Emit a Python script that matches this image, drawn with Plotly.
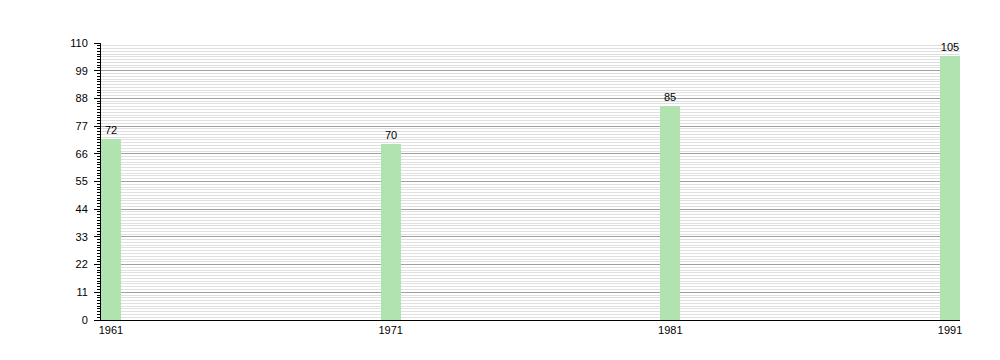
import plotly.graph_objects as go

years = [1961, 1971, 1981, 1991]
values = [72, 70, 85, 105]
labels = ["1961", "1971", "1981", "1991"]

fig = go.Figure()
fig.add_trace(go.Bar(
    x=years, y=values, width=0.715,
    marker=dict(color="#b0e3b0", line=dict(width=0)),
    text=[str(v) for v in values], textposition="outside",
    textfont=dict(family="Liberation Sans, Arial", size=11, color="#000000"),
    cliponaxis=False,
))
fig.update_layout(
    width=1000, height=360,
    margin=dict(l=101, r=40, t=43, b=40),
    paper_bgcolor="white", plot_bgcolor="white",
    showlegend=False,
    bargap=0,
    font=dict(family="Liberation Sans, Arial", size=11, color="#000"),
)
fig.update_xaxes(
    range=[1960.643, 1991.357],
    tickvals=years, ticktext=labels,
    showgrid=False, zeroline=False,
    showline=True, linecolor="#000", linewidth=1,
    ticks="", ticklen=0,
    tickfont=dict(size=11),
)
fig.update_yaxes(
    range=[0, 110], dtick=11, tick0=0,
    showgrid=True, gridcolor="#a0a0a0", gridwidth=1,
    zeroline=False,
    showline=True, linecolor="#000", linewidth=1,
    ticks="outside", ticklen=6, tickcolor="#000",
    ticklabelstandoff=4,
    tickfont=dict(size=11),
    minor=dict(dtick=1.1, tick0=0, showgrid=True, gridcolor="#e0e0e0", gridwidth=1,
               ticks="outside", ticklen=3, tickcolor="#000"),
)
fig.write_html("out.html")
